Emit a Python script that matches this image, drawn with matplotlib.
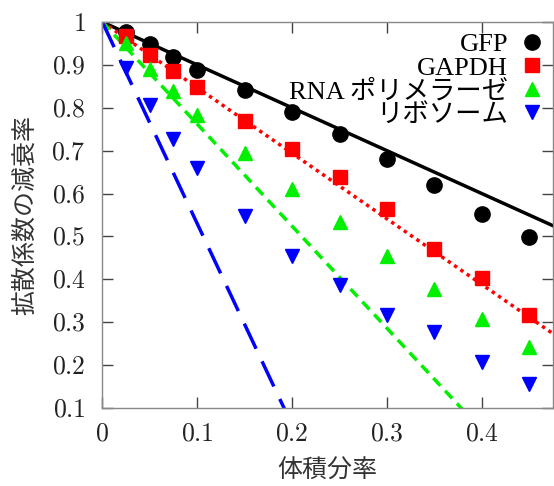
import matplotlib
matplotlib.use("Agg")
import matplotlib.pyplot as plt
import numpy as np

plt.rcParams.update({
    "font.family": ["Liberation Serif", "Noto Sans CJK JP"],
    "mathtext.fontset": "cm",
    "font.size": 14,
})

# volume fraction of the measured points
phi = [0.025, 0.05, 0.075, 0.1, 0.15, 0.2, 0.25, 0.3, 0.35, 0.4, 0.45]

gfp = [0.977, 0.949, 0.918, 0.888, 0.841, 0.791, 0.739, 0.681, 0.620, 0.552, 0.498]
gapdh = [0.967, 0.923, 0.886, 0.848, 0.770, 0.703, 0.639, 0.563, 0.470, 0.402, 0.317]
rnap = [0.950, 0.890, 0.840, 0.783, 0.695, 0.610, 0.534, 0.454, 0.377, 0.307, 0.243]
ribo = [0.892, 0.806, 0.727, 0.659, 0.548, 0.454, 0.387, 0.317, 0.278, 0.208, 0.156]

# slopes of the linear guides y = 1 - k*phi
slopes = [1.0, 1.53, 2.38, 4.7]

labels = ["GFP", "GAPDH", "RNA ポリメラーゼ", "リボソーム"]
colors = ["black", "#ff0000", "#00f000", "#0000ff"]
markers = ["o", "s", "^", "v"]
msizes = [11, 10, 10.5, 10.5]
line_styles = ["-", (0, (1, 1.2)), (0, (3, 2)), (0, (8, 4))]

fig = plt.figure(figsize=(5.54, 4.86), dpi=100)
ax = fig.add_axes([0.1847, 0.1605, 0.8135, 0.7942])

xs = np.linspace(0, 0.475, 200)
for k, c, ls in zip(slopes, colors, line_styles):
    ax.plot(xs, 1 - k * xs, color=c, linestyle=ls, linewidth=2.5)

for ys, lab, c, m, ms in zip([gfp, gapdh, rnap, ribo], labels, colors, markers, msizes):
    ax.plot(phi, ys, linestyle="none", marker=m, color=c, markersize=ms, label=lab)

ax.set_xlim(0, 0.475)
ax.set_ylim(0.1, 1.0)
ax.set_xticks([0, 0.1, 0.2, 0.3, 0.4])
ax.set_xticklabels(["$0$", "$0.1$", "$0.2$", "$0.3$", "$0.4$"])
ax.set_yticks([0.1, 0.2, 0.3, 0.4, 0.5, 0.6, 0.7, 0.8, 0.9, 1.0])
ax.set_yticklabels(["$0.1$", "$0.2$", "$0.3$", "$0.4$", "$0.5$",
                    "$0.6$", "$0.7$", "$0.8$", "$0.9$", "$1$"])
ax.tick_params(direction="in", length=8, width=1, top=True, right=True,
               labelsize=18.5, color="#444444", labelcolor="#222222")
ax.tick_params(axis="x", pad=11)
ax.tick_params(axis="y", pad=12)
for s in ax.spines.values():
    s.set_color("#888888")
    s.set_linewidth(1)

ax.set_xlabel("体積分率", fontsize=18, color="#333333", labelpad=10)
ax.set_ylabel("拡散係数の減衰率", fontsize=18, color="#333333", labelpad=10)

ax.legend(loc="upper right", frameon=False, markerfirst=False, fontsize=19,
          handlelength=0.8, handletextpad=0.5, labelspacing=0.0,
          borderaxespad=0.1, alignment="right", borderpad=0.3)

fig.savefig("out.png", dpi=100)
